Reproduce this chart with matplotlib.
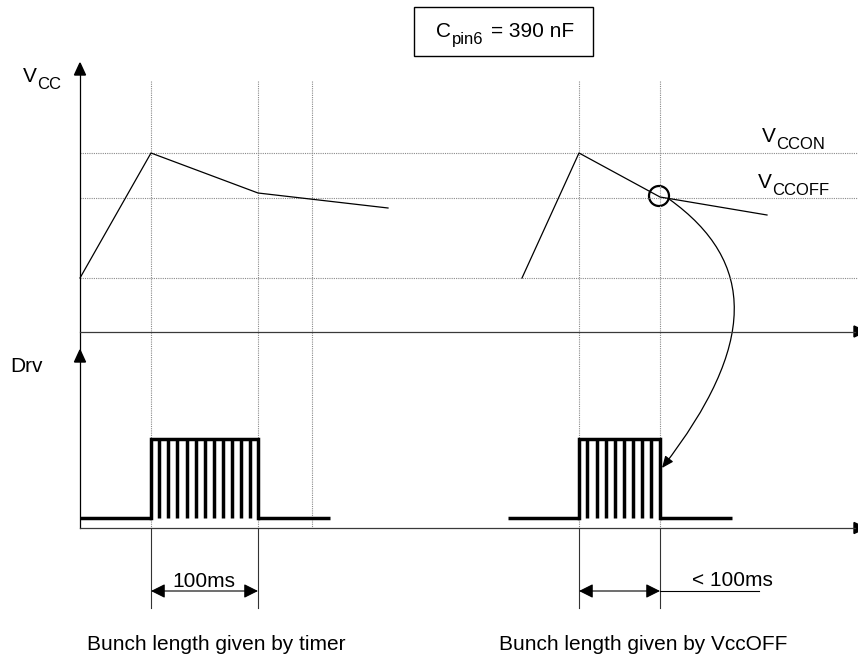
import numpy as np
import matplotlib
matplotlib.use('Agg')
import matplotlib.pyplot as plt
from matplotlib.patches import Circle, Rectangle, FancyArrowPatch
from matplotlib.path import Path

plt.rcParams['font.family'] = ['Liberation Sans', 'DejaVu Sans']

# drawing space is in pixels of the 858x662 page (y grows downwards)
# Vcc traces (x = time, y = level)
vcc_left_x = [80, 151, 258, 388]
vcc_left_y = [278, 153, 193, 208]
vcc_right_x = [522, 579, 660, 767]
vcc_right_y = [278, 153, 197, 215]

# threshold levels and time markers
levels_y = [153, 198, 278]          # VCCON, VCCOFF, lower level
markers_x = [151, 258, 312, 579, 660]

# Drv bunches
drv_low, drv_high = 518, 439
bunch_left = (151, 258)
bunch_left_line = (80, 330)
strokes_left = [159.3, 168.3, 177.3, 186.5, 195.5, 204.5, 213.5, 222.5, 231.5, 240.5, 249.5]
bunch_right = (579, 660)
bunch_right_line = (508, 732)
strokes_right = [587.3, 596.7, 605.7, 614.7, 623.7, 632.7, 641.7, 650.7]

# axes
axis_x = 80
vcc_axis_y = 331.5
drv_axis_y = 528

fig = plt.figure(figsize=(8.58, 6.62), dpi=100)
ax = fig.add_axes([0, 0, 1, 1])
ax.set_xlim(0, 858)
ax.set_ylim(662, 0)
ax.axis('off')

dot = dict(color='#8a8a8a', lw=0.8, linestyle=(0, (1, 1)))
for y in levels_y:
    ax.plot([axis_x, 858], [y, y], **dot)
for x in markers_x:
    ax.plot([x, x], [81, drv_axis_y], **dot)

# axes lines and arrow heads
ax.plot([axis_x, axis_x], [75, drv_axis_y], color='k', lw=0.9)
ax.plot([axis_x, 855], [vcc_axis_y, vcc_axis_y], color='#3a3a3a', lw=0.9)
ax.plot([axis_x, 855], [drv_axis_y, drv_axis_y], color='#3a3a3a', lw=0.9)
ax.fill([axis_x, axis_x - 5.5, axis_x + 5.5], [63, 75, 75], color='k')
ax.fill([axis_x, axis_x - 5.5, axis_x + 5.5], [350, 362, 362], color='k')
for y in [vcc_axis_y, drv_axis_y]:
    ax.fill([854, 866, 854], [y - 5.5, y, y + 5.5], color='k')

# Vcc traces
ax.plot(vcc_left_x, vcc_left_y, color='k', lw=0.9)
ax.plot(vcc_right_x, vcc_right_y, color='k', lw=0.9)
ax.add_patch(Circle((659, 196), 10, fill=False, lw=1.6, color='k'))

# curved arrow from the circle to the end of the right bunch
curve = Path([(669, 199), (757, 262), (757, 345), (662, 468)],
             [Path.MOVETO, Path.CURVE4, Path.CURVE4, Path.CURVE4])
ax.add_patch(FancyArrowPatch(path=curve, arrowstyle='-|>,head_length=7,head_width=3',
                             mutation_scale=1, color='k', lw=0.9))

# Drv bunches
lw_drv = 2.5
for (a, b), (l0, l1), strokes in [(bunch_left, bunch_left_line, strokes_left),
                                   (bunch_right, bunch_right_line, strokes_right)]:
    ax.plot([l0, a], [drv_low, drv_low], color='k', lw=lw_drv, solid_capstyle='butt')
    ax.plot([a, a, b, b], [drv_low, drv_high, drv_high, drv_low], color='k', lw=lw_drv,
            solid_joinstyle='miter')
    ax.plot([b, l1], [drv_low, drv_low], color='k', lw=lw_drv, solid_capstyle='butt')
    ax.vlines(strokes, drv_high, drv_low, color='k', lw=lw_drv)

# dimension lines
dim_y = 591
for x in [bunch_left[0], bunch_left[1], bunch_right[0], bunch_right[1]]:
    ax.plot([x, x], [drv_axis_y, 608], color='#333333', lw=0.8)
for a, b in [bunch_left, bunch_right]:
    ax.annotate('', xy=(a, dim_y), xytext=(b, dim_y),
                arrowprops=dict(arrowstyle='<|-|>,head_length=8.6,head_width=4.3',
                                mutation_scale=1, color='k', lw=0.8,
                                shrinkA=0, shrinkB=0))
ax.plot([bunch_right[1], 759], [dim_y, dim_y], color='k', lw=0.8)

fs = 15
fs_sub = 12
ax.text(204, 587, '100ms', fontsize=fs, ha='center', va='baseline')
ax.text(732, 586, '< 100ms', fontsize=fs, ha='center', va='baseline')
ax.text(216, 650, 'Bunch length given by timer', fontsize=fs, ha='center', va='baseline')
ax.text(643, 650, 'Bunch length given by VccOFF', fontsize=fs, ha='center', va='baseline')
ax.text(10, 372, 'Drv', fontsize=fs, ha='left', va='baseline')


def sub_label(x, y, main, sub):
    t = ax.text(x, y, main, fontsize=fs, ha='left', va='baseline')
    ax.annotate(sub, xy=(1, 0), xycoords=t, xytext=(0.5, -4), textcoords='offset points',
                fontsize=fs_sub, ha='left', va='bottom')
    return t


sub_label(23, 82, 'V', 'CC')
sub_label(762, 142, 'V', 'CCON')
sub_label(758, 188, 'V', 'CCOFF')

# capacitor value box
ax.add_patch(Rectangle((414, 7), 179, 49, fill=False, lw=1.0, color='k'))
sub_label(436, 37, 'C', 'pin6')
ax.text(574, 37, '= 390 nF', fontsize=fs, ha='right', va='baseline')

fig.savefig('out.png', dpi=100)
